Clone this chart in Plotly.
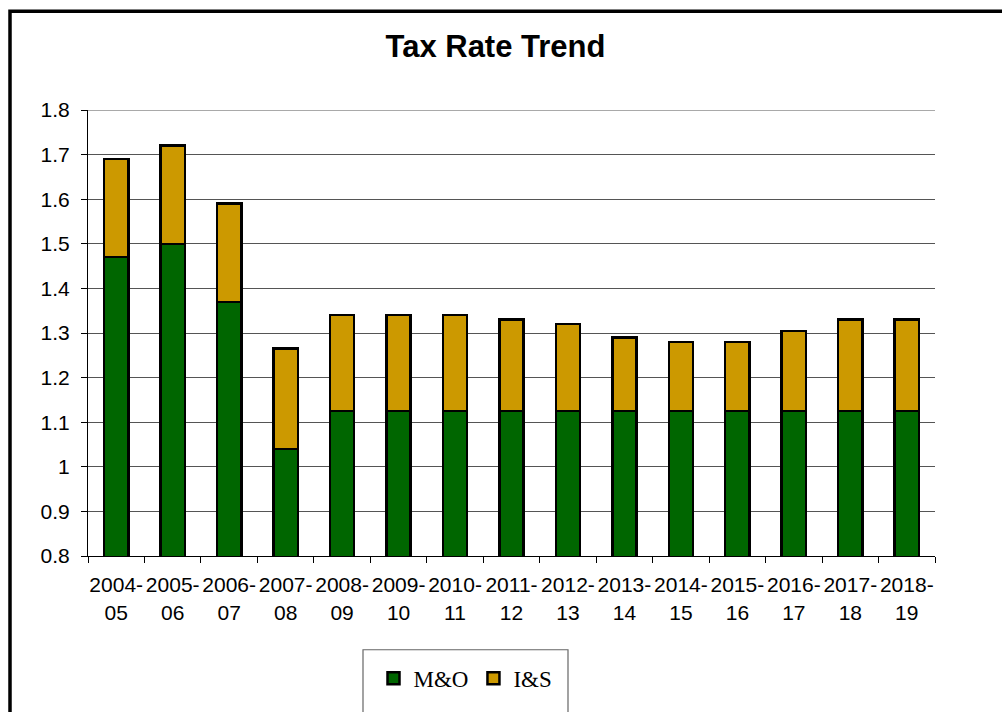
import plotly.graph_objects as go

# Fiscal years shown on the category axis
years = ["2004-<br>05", "2005-<br>06", "2006-<br>07", "2007-<br>08", "2008-<br>09",
         "2009-<br>10", "2010-<br>11", "2011-<br>12", "2012-<br>13", "2013-<br>14",
         "2014-<br>15", "2015-<br>16", "2016-<br>17", "2017-<br>18", "2018-<br>19"]

# Maintenance & Operations rate
mo_rate = [1.47, 1.50, 1.37, 1.04, 1.125, 1.125, 1.125, 1.125, 1.125, 1.125,
           1.125, 1.125, 1.125, 1.125, 1.125]

# Total tax rate (M&O + I&S)
total_rate = [1.69, 1.72, 1.59, 1.265, 1.34, 1.34, 1.34, 1.33, 1.32, 1.29,
              1.28, 1.28, 1.305, 1.33, 1.33]

# Interest & Sinking rate is the remainder stacked on top
is_rate = [round(t - m, 4) for t, m in zip(total_rate, mo_rate)]

y_ticks = [0.8, 0.9, 1.0, 1.1, 1.2, 1.3, 1.4, 1.5, 1.6, 1.7, 1.8]
y_tick_text = ["0.8", "0.9", "1", "1.1", "1.2", "1.3", "1.4", "1.5", "1.6", "1.7", "1.8"]
y_min, y_max = 0.8, 1.8

W, H = 1002, 712
L, R, T, B = 88, 67, 110, 150
pw, ph = W - L - R, H - T - B


def px(x):
    return (x - L) / pw


def py(y):
    return (H - B - y) / ph


fig = go.Figure()
fig.add_trace(go.Bar(
    name="M&O", x=years, y=mo_rate,
    marker=dict(color="#006600", line=dict(color="black", width=2.5)),
))
fig.add_trace(go.Bar(
    name="I&S", x=years, y=is_rate,
    marker=dict(color="#CC9900", line=dict(color="black", width=2.5)),
))

fig.update_layout(
    barmode="stack",
    bargap=0.57,
    width=W, height=H,
    margin=dict(l=L, r=R, t=T, b=B),
    paper_bgcolor="white",
    plot_bgcolor="white",
    font=dict(family="Arial, Liberation Sans, sans-serif", size=21, color="black"),
    title=dict(
        text="<b>Tax Rate Trend</b>",
        font=dict(family="Arial, Liberation Sans, sans-serif", size=31, color="black"),
        x=0.4945, xanchor="center", xref="container",
        y=1 - 46 / H, yanchor="middle", yref="container",
    ),
    xaxis=dict(
        type="category",
        showline=True, linecolor="black", linewidth=1.2,
        ticks="outside", tickson="boundaries", ticklen=6, tickcolor="black",
        tickangle=0,
        ticklabelstandoff=10,
        showgrid=False,
        tickfont=dict(size=21),
    ),
    yaxis=dict(
        range=[y_min, y_max],
        tickvals=y_ticks, ticktext=y_tick_text,
        showline=True, linecolor="black", linewidth=1.2,
        ticks="outside", ticklen=6, tickcolor="black",
        ticklabelstandoff=7,
        showgrid=True, gridcolor="#555555", gridwidth=1.2,
        zeroline=False,
        tickfont=dict(size=21),
    ),
    showlegend=True,
    legend=dict(
        orientation="h",
        x=px(465.5), xanchor="center",
        y=py(686), yanchor="middle",
        font=dict(family="Times New Roman, Liberation Serif, serif", size=23),
        itemwidth=30,
        bgcolor="rgba(0,0,0,0)",
        traceorder="normal",
    ),
    shapes=[
        # top gridline at the axis maximum
        dict(type="line", xref="paper", yref="y", x0=0, x1=1, y0=y_max, y1=y_max,
             line=dict(color="#555555", width=1.2), layer="below"),
        # outer chart frame
        dict(type="rect", xref="paper", yref="paper",
             x0=px(10), x1=px(1010), y0=py(730), y1=py(10),
             line=dict(color="black", width=3.5), fillcolor="rgba(0,0,0,0)", layer="below"),
        # legend frame
        dict(type="rect", xref="paper", yref="paper",
             x0=px(363), x1=px(568), y0=py(730), y1=py(657),
             line=dict(color="#666666", width=1.2), fillcolor="rgba(0,0,0,0)", layer="below"),
    ],
)

fig.write_html("out.html")
